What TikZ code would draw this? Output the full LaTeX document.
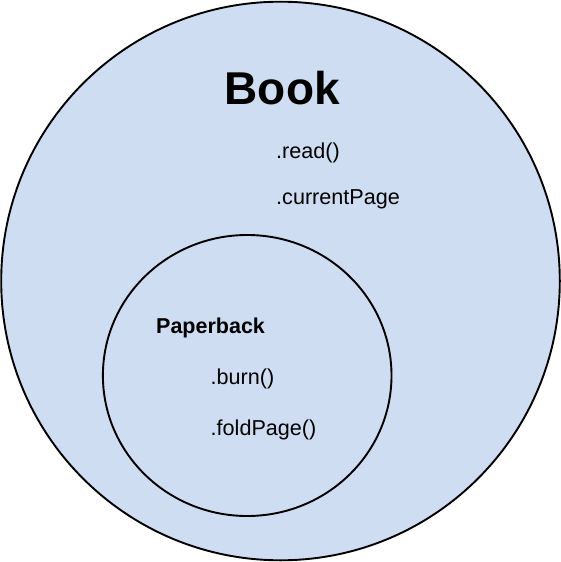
\documentclass[tikz,border=0pt]{standalone}
\usepackage{fontspec}
\setmainfont{Liberation Sans}
\definecolor{bookfill}{HTML}{CFDDF2}
\begin{document}
\begin{tikzpicture}[x=1pt,y=-1pt,
  ring/.style={draw=black,line width=1.9pt,fill=bookfill},
  member/.style={anchor=base west,inner sep=0pt,font=\fontsize{21.6}{26}\selectfont},
  title/.style={anchor=base west,inner sep=0pt,font=\bfseries\fontsize{21.5}{26}\selectfont}]
\useasboundingbox (0,0) rectangle (561,562);
\path[ring] (280.5,281) circle [radius=279.3];
\path[ring] (247.2,375.5) ellipse [x radius=144.3, y radius=140.5];
\node[anchor=base west,inner sep=0pt,font=\bfseries\fontsize{46}{52}\selectfont] (book) at (224.5,104) {Book};
\node[member] (read) at (276,158) {.read()};
\node[member] (cur) at (276,204) {.currentPage};
\node[title] (pb) at (156,333) {Paperback};
\node[member] (burn) at (210.5,384) {.burn()};
\node[member] (fold) at (210.5,435) {.foldPage()};
\end{tikzpicture}
\end{document}
